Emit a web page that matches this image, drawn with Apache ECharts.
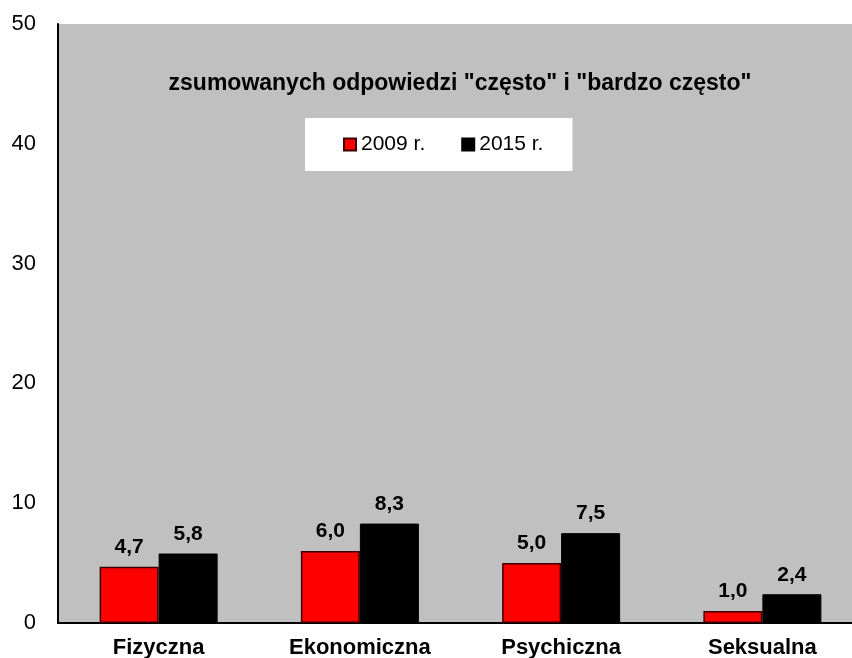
<!DOCTYPE html>
<html>
<head>
<meta charset="utf-8">
<script src="https://cdn.jsdelivr.net/npm/echarts@6/dist/echarts.min.js"></script>
<style>
  html, body { margin: 0; padding: 0; background: #fff; }
  #chart { width: 852px; height: 658px; }
</style>
</head>
<body>
<div id="chart"></div>
<script>
// dane
const kategorie = ['Fizyczna', 'Ekonomiczna', 'Psychiczna', 'Seksualna'];
const lata = ['2009 r.', '2015 r.'];
const wartosci2009 = [4.7, 6.0, 5.0, 1.0];
const wartosci2015 = [5.8, 8.3, 7.5, 2.4];
const tytul = 'zsumowanych odpowiedzi "często" i "bardzo często"';

const font = '"Liberation Sans", Arial, sans-serif';

const myChart = echarts.init(document.getElementById('chart'));

// etykieta z przecinkiem
function etykieta(p) {
    return p.value.toFixed(1).replace('.', ',');
}

myChart.setOption({
    animation: false,
    textStyle: { fontFamily: font },
    title: {
        text: tytul,
        left: 455,
        top: 67,
        textAlign: 'center',
        textStyle: { fontSize: 23, fontWeight: 'bold', color: '#000', fontFamily: font }
    },
    legend: {
        data: lata,
        left: 305,
        top: 118,
        padding: [16, 29, 16, 38],
        backgroundColor: '#fff',
        itemGap: 36,
        itemWidth: 12,
        itemHeight: 12,
        icon: 'rect',
        textStyle: { fontSize: 21, color: '#000', fontFamily: font }
    },
    // obszar wykresu wychodzi trochę poza prawą krawędź
    grid: {
        left: 58,
        width: 805,
        top: 24,
        bottom: 35,
        outerBoundsMode: 'none',
        show: true,
        backgroundColor: '#c0c0c0',
        borderWidth: 0
    },
    xAxis: {
        type: 'category',
        data: kategorie,
        axisLine: { lineStyle: { color: '#000', width: 2 } },
        axisTick: { show: false },
        axisLabel: { margin: 14, fontSize: 22, fontWeight: 'bold', color: '#000', fontFamily: font }
    },
    yAxis: {
        type: 'value',
        min: 0,
        max: 50,
        interval: 10,
        axisLine: { show: true, lineStyle: { color: '#000', width: 2 } },
        axisTick: { show: false },
        splitLine: { show: false },
        axisLabel: { margin: 22, fontSize: 22, color: '#000', fontFamily: font }
    },
    series: [
        {
            name: lata[0],
            type: 'bar',
            data: wartosci2009,
            barWidth: 59,
            barGap: '0%',
            itemStyle: { color: '#ff0000', borderColor: '#3a0000', borderWidth: 1.5 },
            label: {
                show: true, position: 'top', distance: 9, formatter: etykieta,
                fontSize: 21, fontWeight: 'bold', color: '#000', fontFamily: font
            }
        },
        {
            name: lata[1],
            type: 'bar',
            data: wartosci2015,
            barWidth: 59,
            barGap: '0%',
            itemStyle: { color: '#000', borderColor: '#000', borderWidth: 1 },
            label: {
                show: true, position: 'top', distance: 9, formatter: etykieta,
                fontSize: 21, fontWeight: 'bold', color: '#000', fontFamily: font
            }
        }
    ]
});
</script>
</body>
</html>
